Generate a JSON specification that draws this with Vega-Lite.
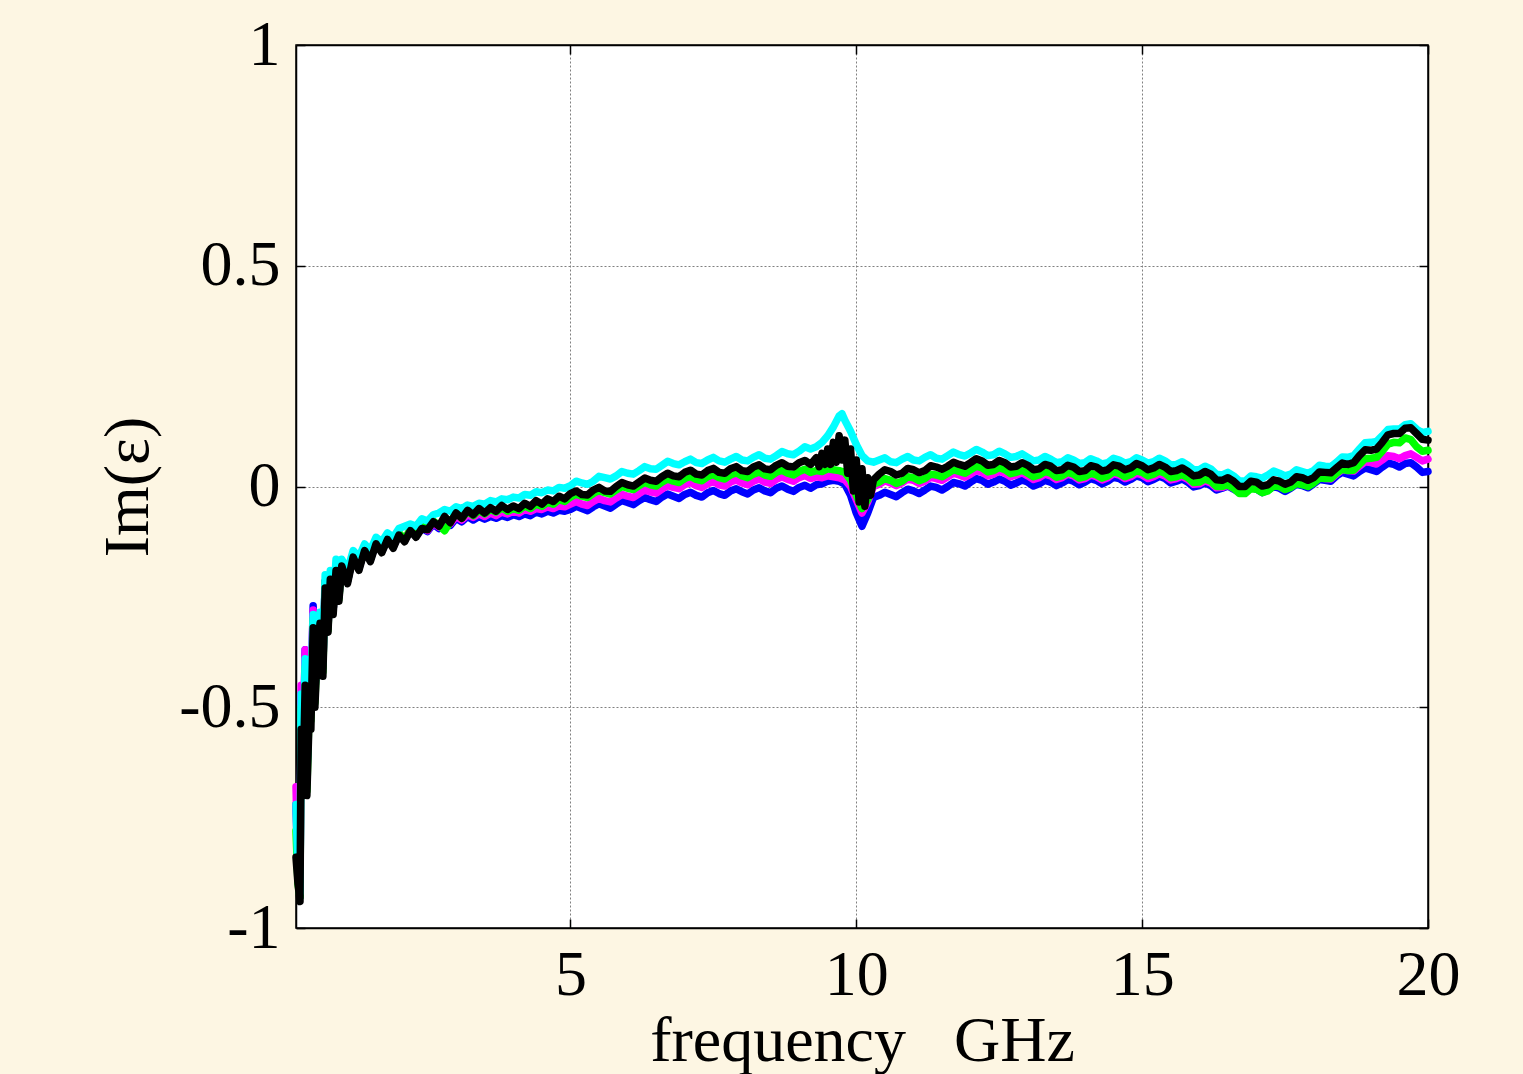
{
"$schema":"https://vega.github.io/schema/vega-lite/v6.json",
"width":1132,"height":883,
"autosize":{"type":"none"},
"padding":{"left":296,"top":45,"right":95,"bottom":146},
"background":"#FDF6E3",
"config":{
 "view":{"fill":"white","stroke":"black","strokeWidth":1.5},
 "axis":{"labelFont":"Liberation Serif","titleFont":"Liberation Serif","labelFontSize":64,"titleFontSize":64,"labelColor":"black","titleColor":"black","titleFontWeight":"normal","domainColor":"black","domainWidth":1.5,"tickColor":"black","tickWidth":1.5,"tickSize":-9,"gridColor":"#808080","gridDash":[2,2],"gridWidth":1,"labelFlush":false,"labelOverlap":false}
},
"data":{"values":[
{"f":0.2,"s":"k","v":-0.84},{"f":0.235,"s":"k","v":-0.9},{"f":0.27,"s":"k","v":-0.94},{"f":0.29,"s":"k","v":-0.55},{"f":0.32,"s":"k","v":-0.7},{"f":0.36,"s":"k","v":-0.45},{"f":0.39,"s":"k","v":-0.7},{"f":0.43,"s":"k","v":-0.52},{"f":0.46,"s":"k","v":-0.55},{"f":0.5,"s":"k","v":-0.32},{"f":0.53,"s":"k","v":-0.5},{"f":0.57,"s":"k","v":-0.38},{"f":0.62,"s":"k","v":-0.31},{"f":0.67,"s":"k","v":-0.43},{"f":0.71,"s":"k","v":-0.23},{"f":0.76,"s":"k","v":-0.33},{"f":0.8,"s":"k","v":-0.21},{"f":0.85,"s":"k","v":-0.29},{"f":0.9,"s":"k","v":-0.19},{"f":0.95,"s":"k","v":-0.26},
{"f":1.0,"s":"k","v":-0.18},{"f":1.1,"s":"k","v":-0.22},{"f":1.2,"s":"k","v":-0.16},{"f":1.3,"s":"k","v":-0.19},{"f":1.4,"s":"k","v":-0.145},{"f":1.5,"s":"k","v":-0.17},{"f":1.6,"s":"k","v":-0.13},{"f":1.7,"s":"k","v":-0.15},{"f":1.8,"s":"k","v":-0.12},{"f":1.9,"s":"k","v":-0.14},{"f":2.0,"s":"k","v":-0.11},{"f":2.1,"s":"k","v":-0.125},{"f":2.2,"s":"k","v":-0.1},{"f":2.3,"s":"k","v":-0.115},{"f":2.4,"s":"k","v":-0.095},{"f":2.5,"s":"k","v":-0.098},{"f":2.6,"s":"k","v":-0.08},{"f":2.7,"s":"k","v":-0.09},{"f":2.8,"s":"k","v":-0.068},{"f":2.9,"s":"k","v":-0.082},{"f":3.0,"s":"k","v":-0.06},{"f":3.1,"s":"k","v":-0.072},{"f":3.2,"s":"k","v":-0.054},{"f":3.3,"s":"k","v":-0.064},{"f":3.4,"s":"k","v":-0.05},{"f":3.5,"s":"k","v":-0.06},{"f":3.6,"s":"k","v":-0.048},{"f":3.7,"s":"k","v":-0.056},{"f":3.8,"s":"k","v":-0.043},{"f":3.9,"s":"k","v":-0.052},{"f":4.0,"s":"k","v":-0.044},{"f":4.1,"s":"k","v":-0.05},{"f":4.2,"s":"k","v":-0.038},{"f":4.3,"s":"k","v":-0.045},{"f":4.4,"s":"k","v":-0.032},{"f":4.5,"s":"k","v":-0.04},{"f":4.6,"s":"k","v":-0.028},{"f":4.7,"s":"k","v":-0.034},{"f":4.8,"s":"k","v":-0.022},{"f":4.9,"s":"k","v":-0.028},{"f":5.0,"s":"k","v":-0.016},
{"f":5.2,"s":"k","v":-0.018},{"f":5.4,"s":"k","v":-0.008},{"f":5.6,"s":"k","v":-0.01},{"f":5.8,"s":"k","v":0.0},{"f":6.0,"s":"k","v":0.004},{"f":6.2,"s":"k","v":0.01},{"f":6.4,"s":"k","v":0.014},{"f":6.6,"s":"k","v":0.022},{"f":6.8,"s":"k","v":0.024},{"f":7.0,"s":"k","v":0.032},{"f":7.2,"s":"k","v":0.028},{"f":7.4,"s":"k","v":0.036},{"f":7.6,"s":"k","v":0.032},{"f":7.8,"s":"k","v":0.04},{"f":8.0,"s":"k","v":0.036},{"f":8.2,"s":"k","v":0.044},{"f":8.4,"s":"k","v":0.04},{"f":8.6,"s":"k","v":0.048},{"f":8.8,"s":"k","v":0.046},{"f":9.0,"s":"k","v":0.054},{"f":9.2,"s":"k","v":0.05},
{"f":5.1,"s":"k","v":-0.01},{"f":5.3,"s":"k","v":-0.019},{"f":5.5,"s":"k","v":-0.002},{"f":5.7,"s":"k","v":-0.011},{"f":5.9,"s":"k","v":0.009},{"f":6.1,"s":"k","v":0.001},{"f":6.3,"s":"k","v":0.019},{"f":6.5,"s":"k","v":0.012},{"f":6.7,"s":"k","v":0.03},{"f":6.9,"s":"k","v":0.022},{"f":7.1,"s":"k","v":0.037},{"f":7.3,"s":"k","v":0.026},{"f":7.5,"s":"k","v":0.041},{"f":7.7,"s":"k","v":0.03},{"f":7.9,"s":"k","v":0.045},{"f":8.1,"s":"k","v":0.034},{"f":8.3,"s":"k","v":0.049},{"f":8.5,"s":"k","v":0.038},{"f":8.7,"s":"k","v":0.054},{"f":8.9,"s":"k","v":0.044},{"f":9.1,"s":"k","v":0.059},
{"f":9.3,"s":"k","v":0.065},{"f":9.35,"s":"k","v":0.045},{"f":9.4,"s":"k","v":0.075},{"f":9.45,"s":"k","v":0.05},{"f":9.5,"s":"k","v":0.085},{"f":9.55,"s":"k","v":0.05},{"f":9.6,"s":"k","v":0.1},{"f":9.65,"s":"k","v":0.055},{"f":9.7,"s":"k","v":0.115},{"f":9.75,"s":"k","v":0.06},{"f":9.8,"s":"k","v":0.105},{"f":9.85,"s":"k","v":0.03},{"f":9.9,"s":"k","v":0.085},{"f":9.95,"s":"k","v":-0.01},{"f":10.0,"s":"k","v":0.06},{"f":10.05,"s":"k","v":-0.035},{"f":10.1,"s":"k","v":0.04},{"f":10.15,"s":"k","v":-0.045},{"f":10.2,"s":"k","v":0.02},{"f":10.25,"s":"k","v":-0.02},{"f":10.3,"s":"k","v":0.015},
{"f":10.4,"s":"k","v":0.028},{"f":10.6,"s":"k","v":0.034},{"f":10.8,"s":"k","v":0.03},{"f":11.0,"s":"k","v":0.038},{"f":11.2,"s":"k","v":0.036},{"f":11.4,"s":"k","v":0.044},{"f":11.6,"s":"k","v":0.046},{"f":11.8,"s":"k","v":0.05},{"f":12.0,"s":"k","v":0.054},{"f":12.2,"s":"k","v":0.058},{"f":12.4,"s":"k","v":0.05},{"f":12.6,"s":"k","v":0.054},{"f":12.8,"s":"k","v":0.046},{"f":13.0,"s":"k","v":0.048},{"f":13.2,"s":"k","v":0.04},{"f":13.4,"s":"k","v":0.046},{"f":13.6,"s":"k","v":0.038},{"f":13.8,"s":"k","v":0.044},{"f":14.0,"s":"k","v":0.036},{"f":14.2,"s":"k","v":0.044},{"f":14.4,"s":"k","v":0.038},{"f":14.6,"s":"k","v":0.046},{"f":14.8,"s":"k","v":0.042},{"f":15.0,"s":"k","v":0.047},{"f":15.2,"s":"k","v":0.042},{"f":15.4,"s":"k","v":0.044},{"f":15.6,"s":"k","v":0.036},{"f":15.8,"s":"k","v":0.034},{"f":16.0,"s":"k","v":0.026},{"f":16.2,"s":"k","v":0.028},{"f":16.4,"s":"k","v":0.014},{"f":16.6,"s":"k","v":0.012},{"f":16.8,"s":"k","v":0.0},{"f":17.0,"s":"k","v":0.01},{"f":17.2,"s":"k","v":0.004},{"f":17.4,"s":"k","v":0.012},{"f":17.6,"s":"k","v":0.01},{"f":17.8,"s":"k","v":0.02},{"f":18.0,"s":"k","v":0.02},{"f":18.2,"s":"k","v":0.032},{"f":18.4,"s":"k","v":0.042},{"f":18.6,"s":"k","v":0.05},{"f":18.8,"s":"k","v":0.07},{"f":19.0,"s":"k","v":0.082},{"f":19.2,"s":"k","v":0.1},{"f":19.4,"s":"k","v":0.12},{"f":19.6,"s":"k","v":0.132},{"f":19.8,"s":"k","v":0.12},{"f":20.0,"s":"k","v":0.105},
{"f":10.5,"s":"k","v":0.038},{"f":10.7,"s":"k","v":0.026},{"f":10.9,"s":"k","v":0.041},{"f":11.1,"s":"k","v":0.031},{"f":11.3,"s":"k","v":0.047},{"f":11.5,"s":"k","v":0.039},{"f":11.7,"s":"k","v":0.055},{"f":11.9,"s":"k","v":0.046},{"f":12.1,"s":"k","v":0.063},{"f":12.3,"s":"k","v":0.048},{"f":12.5,"s":"k","v":0.059},{"f":12.7,"s":"k","v":0.044},{"f":12.9,"s":"k","v":0.054},{"f":13.1,"s":"k","v":0.038},{"f":13.3,"s":"k","v":0.05},{"f":13.5,"s":"k","v":0.036},{"f":13.7,"s":"k","v":0.048},{"f":13.9,"s":"k","v":0.034},{"f":14.1,"s":"k","v":0.047},{"f":14.3,"s":"k","v":0.035},{"f":14.5,"s":"k","v":0.049},{"f":14.7,"s":"k","v":0.038},{"f":14.9,"s":"k","v":0.052},{"f":15.1,"s":"k","v":0.038},{"f":15.3,"s":"k","v":0.05},{"f":15.5,"s":"k","v":0.034},{"f":15.7,"s":"k","v":0.042},{"f":15.9,"s":"k","v":0.024},{"f":16.1,"s":"k","v":0.034},{"f":16.3,"s":"k","v":0.015},{"f":16.5,"s":"k","v":0.02},{"f":16.7,"s":"k","v":0.0},{"f":16.9,"s":"k","v":0.012},{"f":17.1,"s":"k","v":0.001},{"f":17.3,"s":"k","v":0.015},{"f":17.5,"s":"k","v":0.005},{"f":17.7,"s":"k","v":0.022},{"f":17.9,"s":"k","v":0.014},{"f":18.1,"s":"k","v":0.033},{"f":18.3,"s":"k","v":0.031},{"f":18.5,"s":"k","v":0.053},{"f":18.7,"s":"k","v":0.054},{"f":18.9,"s":"k","v":0.083},{"f":19.1,"s":"k","v":0.085},{"f":19.3,"s":"k","v":0.117},{"f":19.5,"s":"k","v":0.12},{"f":19.7,"s":"k","v":0.133},{"f":19.9,"s":"k","v":0.107},

{"f":0.2,"s":"c","v":-0.72},{"f":0.235,"s":"c","v":-0.88},{"f":0.27,"s":"c","v":-0.92},{"f":0.29,"s":"c","v":-0.47},{"f":0.32,"s":"c","v":-0.66},{"f":0.36,"s":"c","v":-0.39},{"f":0.39,"s":"c","v":-0.66},{"f":0.43,"s":"c","v":-0.48},{"f":0.46,"s":"c","v":-0.5},{"f":0.5,"s":"c","v":-0.29},{"f":0.53,"s":"c","v":-0.47},{"f":0.57,"s":"c","v":-0.35},{"f":0.62,"s":"c","v":-0.285},{"f":0.67,"s":"c","v":-0.4},{"f":0.71,"s":"c","v":-0.2},{"f":0.76,"s":"c","v":-0.31},{"f":0.8,"s":"c","v":-0.19},{"f":0.85,"s":"c","v":-0.27},{"f":0.9,"s":"c","v":-0.165},{"f":0.95,"s":"c","v":-0.24},
{"f":1.0,"s":"c","v":-0.165},{"f":1.1,"s":"c","v":-0.19},{"f":1.2,"s":"c","v":-0.145},{"f":1.3,"s":"c","v":-0.16},{"f":1.4,"s":"c","v":-0.13},{"f":1.5,"s":"c","v":-0.145},{"f":1.6,"s":"c","v":-0.115},{"f":1.7,"s":"c","v":-0.125},{"f":1.8,"s":"c","v":-0.105},{"f":1.9,"s":"c","v":-0.115},{"f":2.0,"s":"c","v":-0.095},{"f":2.1,"s":"c","v":-0.09},{"f":2.2,"s":"c","v":-0.085},{"f":2.3,"s":"c","v":-0.09},{"f":2.4,"s":"c","v":-0.073},{"f":2.5,"s":"c","v":-0.078},{"f":2.6,"s":"c","v":-0.064},{"f":2.7,"s":"c","v":-0.06},{"f":2.8,"s":"c","v":-0.052},{"f":2.9,"s":"c","v":-0.056},{"f":3.0,"s":"c","v":-0.046},{"f":3.1,"s":"c","v":-0.05},{"f":3.2,"s":"c","v":-0.042},{"f":3.3,"s":"c","v":-0.045},{"f":3.4,"s":"c","v":-0.038},{"f":3.5,"s":"c","v":-0.04},{"f":3.6,"s":"c","v":-0.032},{"f":3.7,"s":"c","v":-0.035},{"f":3.8,"s":"c","v":-0.028},{"f":3.9,"s":"c","v":-0.03},{"f":4.0,"s":"c","v":-0.024},{"f":4.1,"s":"c","v":-0.026},{"f":4.2,"s":"c","v":-0.018},{"f":4.3,"s":"c","v":-0.02},{"f":4.4,"s":"c","v":-0.012},{"f":4.5,"s":"c","v":-0.014},{"f":4.6,"s":"c","v":-0.008},{"f":4.7,"s":"c","v":-0.01},{"f":4.8,"s":"c","v":-0.002},{"f":4.9,"s":"c","v":-0.004},{"f":5.0,"s":"c","v":0.002},
{"f":5.2,"s":"c","v":0.008},{"f":5.4,"s":"c","v":0.012},{"f":5.6,"s":"c","v":0.02},{"f":5.8,"s":"c","v":0.024},{"f":6.0,"s":"c","v":0.03},{"f":6.2,"s":"c","v":0.036},{"f":6.4,"s":"c","v":0.04},{"f":6.6,"s":"c","v":0.048},{"f":6.8,"s":"c","v":0.052},{"f":7.0,"s":"c","v":0.056},{"f":7.2,"s":"c","v":0.054},{"f":7.4,"s":"c","v":0.06},{"f":7.6,"s":"c","v":0.058},{"f":7.8,"s":"c","v":0.062},{"f":8.0,"s":"c","v":0.06},{"f":8.2,"s":"c","v":0.066},{"f":8.4,"s":"c","v":0.064},{"f":8.6,"s":"c","v":0.07},{"f":8.8,"s":"c","v":0.074},{"f":9.0,"s":"c","v":0.08},{"f":9.2,"s":"c","v":0.085},
{"f":5.1,"s":"c","v":0.012},{"f":5.3,"s":"c","v":0.005},{"f":5.5,"s":"c","v":0.023},{"f":5.7,"s":"c","v":0.017},{"f":5.9,"s":"c","v":0.034},{"f":6.1,"s":"c","v":0.028},{"f":6.3,"s":"c","v":0.045},{"f":6.5,"s":"c","v":0.039},{"f":6.7,"s":"c","v":0.057},{"f":6.9,"s":"c","v":0.049},{"f":7.1,"s":"c","v":0.062},{"f":7.3,"s":"c","v":0.052},{"f":7.5,"s":"c","v":0.066},{"f":7.7,"s":"c","v":0.055},{"f":7.9,"s":"c","v":0.068},{"f":8.1,"s":"c","v":0.058},{"f":8.3,"s":"c","v":0.072},{"f":8.5,"s":"c","v":0.062},{"f":8.7,"s":"c","v":0.079},{"f":8.9,"s":"c","v":0.072},{"f":9.1,"s":"c","v":0.09},
{"f":9.3,"s":"c","v":0.09},{"f":9.4,"s":"c","v":0.1},{"f":9.5,"s":"c","v":0.115},{"f":9.6,"s":"c","v":0.135},{"f":9.7,"s":"c","v":0.16},{"f":9.75,"s":"c","v":0.165},{"f":9.8,"s":"c","v":0.15},{"f":9.9,"s":"c","v":0.125},{"f":10.0,"s":"c","v":0.095},{"f":10.1,"s":"c","v":0.07},{"f":10.2,"s":"c","v":0.058},{"f":10.3,"s":"c","v":0.055},
{"f":10.4,"s":"c","v":0.06},{"f":10.6,"s":"c","v":0.056},{"f":10.8,"s":"c","v":0.062},{"f":11.0,"s":"c","v":0.06},{"f":11.2,"s":"c","v":0.066},{"f":11.4,"s":"c","v":0.064},{"f":11.6,"s":"c","v":0.07},{"f":11.8,"s":"c","v":0.072},{"f":12.0,"s":"c","v":0.076},{"f":12.2,"s":"c","v":0.078},{"f":12.4,"s":"c","v":0.072},{"f":12.6,"s":"c","v":0.074},{"f":12.8,"s":"c","v":0.068},{"f":13.0,"s":"c","v":0.066},{"f":13.2,"s":"c","v":0.06},{"f":13.4,"s":"c","v":0.062},{"f":13.6,"s":"c","v":0.056},{"f":13.8,"s":"c","v":0.06},{"f":14.0,"s":"c","v":0.054},{"f":14.2,"s":"c","v":0.058},{"f":14.4,"s":"c","v":0.054},{"f":14.6,"s":"c","v":0.06},{"f":14.8,"s":"c","v":0.056},{"f":15.0,"s":"c","v":0.06},{"f":15.2,"s":"c","v":0.056},{"f":15.4,"s":"c","v":0.058},{"f":15.6,"s":"c","v":0.05},{"f":15.8,"s":"c","v":0.048},{"f":16.0,"s":"c","v":0.038},{"f":16.2,"s":"c","v":0.04},{"f":16.4,"s":"c","v":0.026},{"f":16.6,"s":"c","v":0.024},{"f":16.8,"s":"c","v":0.012},{"f":17.0,"s":"c","v":0.022},{"f":17.2,"s":"c","v":0.026},{"f":17.4,"s":"c","v":0.03},{"f":17.6,"s":"c","v":0.028},{"f":17.8,"s":"c","v":0.034},{"f":18.0,"s":"c","v":0.036},{"f":18.2,"s":"c","v":0.046},{"f":18.4,"s":"c","v":0.055},{"f":18.6,"s":"c","v":0.066},{"f":18.8,"s":"c","v":0.085},{"f":19.0,"s":"c","v":0.1},{"f":19.2,"s":"c","v":0.115},{"f":19.4,"s":"c","v":0.13},{"f":19.6,"s":"c","v":0.14},{"f":19.8,"s":"c","v":0.13},{"f":20.0,"s":"c","v":0.125},
{"f":10.5,"s":"c","v":0.065},{"f":10.7,"s":"c","v":0.054},{"f":10.9,"s":"c","v":0.068},{"f":11.1,"s":"c","v":0.058},{"f":11.3,"s":"c","v":0.072},{"f":11.5,"s":"c","v":0.062},{"f":11.7,"s":"c","v":0.078},{"f":11.9,"s":"c","v":0.069},{"f":12.1,"s":"c","v":0.084},{"f":12.3,"s":"c","v":0.07},{"f":12.5,"s":"c","v":0.08},{"f":12.7,"s":"c","v":0.066},{"f":12.9,"s":"c","v":0.074},{"f":13.1,"s":"c","v":0.058},{"f":13.3,"s":"c","v":0.068},{"f":13.5,"s":"c","v":0.054},{"f":13.7,"s":"c","v":0.065},{"f":13.9,"s":"c","v":0.052},{"f":14.1,"s":"c","v":0.063},{"f":14.3,"s":"c","v":0.051},{"f":14.5,"s":"c","v":0.064},{"f":14.7,"s":"c","v":0.053},{"f":14.9,"s":"c","v":0.065},{"f":15.1,"s":"c","v":0.053},{"f":15.3,"s":"c","v":0.064},{"f":15.5,"s":"c","v":0.049},{"f":15.7,"s":"c","v":0.056},{"f":15.9,"s":"c","v":0.038},{"f":16.1,"s":"c","v":0.046},{"f":16.3,"s":"c","v":0.028},{"f":16.5,"s":"c","v":0.032},{"f":16.7,"s":"c","v":0.013},{"f":16.9,"s":"c","v":0.024},{"f":17.1,"s":"c","v":0.019},{"f":17.3,"s":"c","v":0.035},{"f":17.5,"s":"c","v":0.024},{"f":17.7,"s":"c","v":0.038},{"f":17.9,"s":"c","v":0.03},{"f":18.1,"s":"c","v":0.048},{"f":18.3,"s":"c","v":0.045},{"f":18.5,"s":"c","v":0.067},{"f":18.7,"s":"c","v":0.07},{"f":18.9,"s":"c","v":0.099},{"f":19.1,"s":"c","v":0.102},{"f":19.3,"s":"c","v":0.129},{"f":19.5,"s":"c","v":0.13},{"f":19.7,"s":"c","v":0.142},{"f":19.9,"s":"c","v":0.122},

{"f":0.2,"s":"g","v":-0.78},{"f":0.235,"s":"g","v":-0.9},{"f":0.27,"s":"g","v":-0.93},{"f":0.29,"s":"g","v":-0.5},{"f":0.32,"s":"g","v":-0.69},{"f":0.36,"s":"g","v":-0.41},{"f":0.39,"s":"g","v":-0.69},{"f":0.43,"s":"g","v":-0.5},{"f":0.46,"s":"g","v":-0.53},{"f":0.5,"s":"g","v":-0.3},{"f":0.53,"s":"g","v":-0.49},{"f":0.57,"s":"g","v":-0.36},{"f":0.62,"s":"g","v":-0.3},{"f":0.67,"s":"g","v":-0.42},{"f":0.71,"s":"g","v":-0.215},{"f":0.76,"s":"g","v":-0.325},{"f":0.8,"s":"g","v":-0.2},{"f":0.85,"s":"g","v":-0.28},{"f":0.9,"s":"g","v":-0.18},{"f":0.95,"s":"g","v":-0.255},
{"f":1.0,"s":"g","v":-0.175},{"f":1.1,"s":"g","v":-0.215},{"f":1.2,"s":"g","v":-0.155},{"f":1.3,"s":"g","v":-0.185},{"f":1.4,"s":"g","v":-0.14},{"f":1.5,"s":"g","v":-0.165},{"f":1.6,"s":"g","v":-0.125},{"f":1.7,"s":"g","v":-0.145},{"f":1.8,"s":"g","v":-0.115},{"f":1.9,"s":"g","v":-0.135},{"f":2.0,"s":"g","v":-0.105},{"f":2.1,"s":"g","v":-0.12},{"f":2.2,"s":"g","v":-0.097},{"f":2.3,"s":"g","v":-0.11},{"f":2.4,"s":"g","v":-0.09},{"f":2.5,"s":"g","v":-0.096},{"f":2.6,"s":"g","v":-0.078},{"f":2.7,"s":"g","v":-0.088},{"f":2.8,"s":"g","v":-0.1},{"f":2.9,"s":"g","v":-0.08},{"f":3.0,"s":"g","v":-0.06},{"f":3.1,"s":"g","v":-0.072},{"f":3.2,"s":"g","v":-0.056},{"f":3.3,"s":"g","v":-0.066},{"f":3.4,"s":"g","v":-0.054},{"f":3.5,"s":"g","v":-0.062},{"f":3.6,"s":"g","v":-0.052},{"f":3.7,"s":"g","v":-0.058},{"f":3.8,"s":"g","v":-0.048},{"f":3.9,"s":"g","v":-0.056},{"f":4.0,"s":"g","v":-0.05},{"f":4.1,"s":"g","v":-0.054},{"f":4.2,"s":"g","v":-0.044},{"f":4.3,"s":"g","v":-0.05},{"f":4.4,"s":"g","v":-0.04},{"f":4.5,"s":"g","v":-0.045},{"f":4.6,"s":"g","v":-0.036},{"f":4.7,"s":"g","v":-0.04},{"f":4.8,"s":"g","v":-0.03},{"f":4.9,"s":"g","v":-0.034},{"f":5.0,"s":"g","v":-0.024},
{"f":5.2,"s":"g","v":-0.022},{"f":5.4,"s":"g","v":-0.016},{"f":5.6,"s":"g","v":-0.014},{"f":5.8,"s":"g","v":-0.008},{"f":6.0,"s":"g","v":-0.004},{"f":6.2,"s":"g","v":0.002},{"f":6.4,"s":"g","v":0.004},{"f":6.6,"s":"g","v":0.01},{"f":6.8,"s":"g","v":0.012},{"f":7.0,"s":"g","v":0.018},{"f":7.2,"s":"g","v":0.016},{"f":7.4,"s":"g","v":0.022},{"f":7.6,"s":"g","v":0.02},{"f":7.8,"s":"g","v":0.026},{"f":8.0,"s":"g","v":0.024},{"f":8.2,"s":"g","v":0.028},{"f":8.4,"s":"g","v":0.026},{"f":8.6,"s":"g","v":0.032},{"f":8.8,"s":"g","v":0.03},{"f":9.0,"s":"g","v":0.034},{"f":9.2,"s":"g","v":0.032},
{"f":5.1,"s":"g","v":-0.017},{"f":5.3,"s":"g","v":-0.025},{"f":5.5,"s":"g","v":-0.009},{"f":5.7,"s":"g","v":-0.017},{"f":5.9,"s":"g","v":0.0},{"f":6.1,"s":"g","v":-0.007},{"f":6.3,"s":"g","v":0.009},{"f":6.5,"s":"g","v":0.001},{"f":6.7,"s":"g","v":0.017},{"f":6.9,"s":"g","v":0.009},{"f":7.1,"s":"g","v":0.023},{"f":7.3,"s":"g","v":0.013},{"f":7.5,"s":"g","v":0.027},{"f":7.7,"s":"g","v":0.017},{"f":7.9,"s":"g","v":0.031},{"f":8.1,"s":"g","v":0.02},{"f":8.3,"s":"g","v":0.033},{"f":8.5,"s":"g","v":0.023},{"f":8.7,"s":"g","v":0.037},{"f":8.9,"s":"g","v":0.026},{"f":9.1,"s":"g","v":0.039},
{"f":9.3,"s":"g","v":0.036},{"f":9.4,"s":"g","v":0.034},{"f":9.5,"s":"g","v":0.04},{"f":9.6,"s":"g","v":0.038},{"f":9.7,"s":"g","v":0.036},{"f":9.8,"s":"g","v":0.032},{"f":9.9,"s":"g","v":0.015},{"f":10.0,"s":"g","v":-0.02},{"f":10.1,"s":"g","v":-0.05},{"f":10.2,"s":"g","v":-0.03},{"f":10.3,"s":"g","v":0.005},
{"f":10.4,"s":"g","v":0.01},{"f":10.6,"s":"g","v":0.014},{"f":10.8,"s":"g","v":0.012},{"f":11.0,"s":"g","v":0.02},{"f":11.2,"s":"g","v":0.018},{"f":11.4,"s":"g","v":0.026},{"f":11.6,"s":"g","v":0.03},{"f":11.8,"s":"g","v":0.034},{"f":12.0,"s":"g","v":0.038},{"f":12.2,"s":"g","v":0.042},{"f":12.4,"s":"g","v":0.036},{"f":12.6,"s":"g","v":0.038},{"f":12.8,"s":"g","v":0.032},{"f":13.0,"s":"g","v":0.03},{"f":13.2,"s":"g","v":0.026},{"f":13.4,"s":"g","v":0.03},{"f":13.6,"s":"g","v":0.024},{"f":13.8,"s":"g","v":0.028},{"f":14.0,"s":"g","v":0.022},{"f":14.2,"s":"g","v":0.026},{"f":14.4,"s":"g","v":0.024},{"f":14.6,"s":"g","v":0.03},{"f":14.8,"s":"g","v":0.027},{"f":15.0,"s":"g","v":0.032},{"f":15.2,"s":"g","v":0.028},{"f":15.4,"s":"g","v":0.03},{"f":15.6,"s":"g","v":0.022},{"f":15.8,"s":"g","v":0.02},{"f":16.0,"s":"g","v":0.01},{"f":16.2,"s":"g","v":0.012},{"f":16.4,"s":"g","v":0.0},{"f":16.6,"s":"g","v":-0.004},{"f":16.8,"s":"g","v":-0.016},{"f":17.0,"s":"g","v":-0.006},{"f":17.2,"s":"g","v":-0.01},{"f":17.4,"s":"g","v":0.0},{"f":17.6,"s":"g","v":-0.002},{"f":17.8,"s":"g","v":0.004},{"f":18.0,"s":"g","v":0.008},{"f":18.2,"s":"g","v":0.018},{"f":18.4,"s":"g","v":0.03},{"f":18.6,"s":"g","v":0.036},{"f":18.8,"s":"g","v":0.05},{"f":19.0,"s":"g","v":0.064},{"f":19.2,"s":"g","v":0.08},{"f":19.4,"s":"g","v":0.1},{"f":19.6,"s":"g","v":0.11},{"f":19.8,"s":"g","v":0.09},{"f":20.0,"s":"g","v":0.082},
{"f":10.5,"s":"g","v":0.018},{"f":10.7,"s":"g","v":0.007},{"f":10.9,"s":"g","v":0.022},{"f":11.1,"s":"g","v":0.013},{"f":11.3,"s":"g","v":0.028},{"f":11.5,"s":"g","v":0.022},{"f":11.7,"s":"g","v":0.038},{"f":11.9,"s":"g","v":0.03},{"f":12.1,"s":"g","v":0.046},{"f":12.3,"s":"g","v":0.033},{"f":12.5,"s":"g","v":0.043},{"f":12.7,"s":"g","v":0.029},{"f":12.9,"s":"g","v":0.037},{"f":13.1,"s":"g","v":0.022},{"f":13.3,"s":"g","v":0.034},{"f":13.5,"s":"g","v":0.021},{"f":13.7,"s":"g","v":0.032},{"f":13.9,"s":"g","v":0.019},{"f":14.1,"s":"g","v":0.03},{"f":14.3,"s":"g","v":0.019},{"f":14.5,"s":"g","v":0.033},{"f":14.7,"s":"g","v":0.022},{"f":14.9,"s":"g","v":0.036},{"f":15.1,"s":"g","v":0.024},{"f":15.3,"s":"g","v":0.035},{"f":15.5,"s":"g","v":0.02},{"f":15.7,"s":"g","v":0.027},{"f":15.9,"s":"g","v":0.009},{"f":16.1,"s":"g","v":0.017},{"f":16.3,"s":"g","v":0.0},{"f":16.5,"s":"g","v":0.004},{"f":16.7,"s":"g","v":-0.016},{"f":16.9,"s":"g","v":-0.005},{"f":17.1,"s":"g","v":-0.014},{"f":17.3,"s":"g","v":0.001},{"f":17.5,"s":"g","v":-0.007},{"f":17.7,"s":"g","v":0.007},{"f":17.9,"s":"g","v":0.0},{"f":18.1,"s":"g","v":0.019},{"f":18.3,"s":"g","v":0.018},{"f":18.5,"s":"g","v":0.039},{"f":18.7,"s":"g","v":0.037},{"f":18.9,"s":"g","v":0.063},{"f":19.1,"s":"g","v":0.066},{"f":19.3,"s":"g","v":0.096},{"f":19.5,"s":"g","v":0.099},{"f":19.7,"s":"g","v":0.106},{"f":19.9,"s":"g","v":0.08},

{"f":0.2,"s":"m","v":-0.68},{"f":0.235,"s":"m","v":-0.86},{"f":0.27,"s":"m","v":-0.92},{"f":0.29,"s":"m","v":-0.45},{"f":0.32,"s":"m","v":-0.65},{"f":0.36,"s":"m","v":-0.37},{"f":0.39,"s":"m","v":-0.65},{"f":0.43,"s":"m","v":-0.47},{"f":0.46,"s":"m","v":-0.49},{"f":0.5,"s":"m","v":-0.28},{"f":0.53,"s":"m","v":-0.46},{"f":0.57,"s":"m","v":-0.35},{"f":0.62,"s":"m","v":-0.3},{"f":0.67,"s":"m","v":-0.41},{"f":0.71,"s":"m","v":-0.215},{"f":0.76,"s":"m","v":-0.32},{"f":0.8,"s":"m","v":-0.2},{"f":0.85,"s":"m","v":-0.28},{"f":0.9,"s":"m","v":-0.18},{"f":0.95,"s":"m","v":-0.25},
{"f":1.0,"s":"m","v":-0.175},{"f":1.1,"s":"m","v":-0.215},{"f":1.2,"s":"m","v":-0.155},{"f":1.3,"s":"m","v":-0.185},{"f":1.4,"s":"m","v":-0.14},{"f":1.5,"s":"m","v":-0.165},{"f":1.6,"s":"m","v":-0.125},{"f":1.7,"s":"m","v":-0.145},{"f":1.8,"s":"m","v":-0.117},{"f":1.9,"s":"m","v":-0.135},{"f":2.0,"s":"m","v":-0.107},{"f":2.1,"s":"m","v":-0.12},{"f":2.2,"s":"m","v":-0.098},{"f":2.3,"s":"m","v":-0.11},{"f":2.4,"s":"m","v":-0.092},{"f":2.5,"s":"m","v":-0.1},{"f":2.6,"s":"m","v":-0.082},{"f":2.7,"s":"m","v":-0.092},{"f":2.8,"s":"m","v":-0.075},{"f":2.9,"s":"m","v":-0.084},{"f":3.0,"s":"m","v":-0.068},{"f":3.1,"s":"m","v":-0.076},{"f":3.2,"s":"m","v":-0.064},{"f":3.3,"s":"m","v":-0.07},{"f":3.4,"s":"m","v":-0.062},{"f":3.5,"s":"m","v":-0.068},{"f":3.6,"s":"m","v":-0.06},{"f":3.7,"s":"m","v":-0.066},{"f":3.8,"s":"m","v":-0.058},{"f":3.9,"s":"m","v":-0.062},{"f":4.0,"s":"m","v":-0.056},{"f":4.1,"s":"m","v":-0.06},{"f":4.2,"s":"m","v":-0.052},{"f":4.3,"s":"m","v":-0.056},{"f":4.4,"s":"m","v":-0.05},{"f":4.5,"s":"m","v":-0.052},{"f":4.6,"s":"m","v":-0.046},{"f":4.7,"s":"m","v":-0.05},{"f":4.8,"s":"m","v":-0.044},{"f":4.9,"s":"m","v":-0.046},{"f":5.0,"s":"m","v":-0.04},
{"f":5.2,"s":"m","v":-0.04},{"f":5.4,"s":"m","v":-0.034},{"f":5.6,"s":"m","v":-0.032},{"f":5.8,"s":"m","v":-0.026},{"f":6.0,"s":"m","v":-0.022},{"f":6.2,"s":"m","v":-0.016},{"f":6.4,"s":"m","v":-0.012},{"f":6.6,"s":"m","v":-0.006},{"f":6.8,"s":"m","v":-0.002},{"f":7.0,"s":"m","v":0.004},{"f":7.2,"s":"m","v":0.002},{"f":7.4,"s":"m","v":0.006},{"f":7.6,"s":"m","v":0.004},{"f":7.8,"s":"m","v":0.01},{"f":8.0,"s":"m","v":0.008},{"f":8.2,"s":"m","v":0.012},{"f":8.4,"s":"m","v":0.01},{"f":8.6,"s":"m","v":0.016},{"f":8.8,"s":"m","v":0.016},{"f":9.0,"s":"m","v":0.02},{"f":9.2,"s":"m","v":0.018},
{"f":5.1,"s":"m","v":-0.034},{"f":5.3,"s":"m","v":-0.043},{"f":5.5,"s":"m","v":-0.027},{"f":5.7,"s":"m","v":-0.035},{"f":5.9,"s":"m","v":-0.018},{"f":6.1,"s":"m","v":-0.025},{"f":6.3,"s":"m","v":-0.008},{"f":6.5,"s":"m","v":-0.015},{"f":6.7,"s":"m","v":0.002},{"f":6.9,"s":"m","v":-0.005},{"f":7.1,"s":"m","v":0.009},{"f":7.3,"s":"m","v":-0.002},{"f":7.5,"s":"m","v":0.011},{"f":7.7,"s":"m","v":0.001},{"f":7.9,"s":"m","v":0.015},{"f":8.1,"s":"m","v":0.004},{"f":8.3,"s":"m","v":0.017},{"f":8.5,"s":"m","v":0.007},{"f":8.7,"s":"m","v":0.022},{"f":8.9,"s":"m","v":0.012},{"f":9.1,"s":"m","v":0.025},
{"f":9.3,"s":"m","v":0.022},{"f":9.4,"s":"m","v":0.02},{"f":9.5,"s":"m","v":0.024},{"f":9.6,"s":"m","v":0.022},{"f":9.7,"s":"m","v":0.02},{"f":9.8,"s":"m","v":0.015},{"f":9.9,"s":"m","v":0.0},{"f":10.0,"s":"m","v":-0.03},{"f":10.1,"s":"m","v":-0.06},{"f":10.2,"s":"m","v":-0.035},{"f":10.3,"s":"m","v":0.0},
{"f":10.4,"s":"m","v":0.005},{"f":10.6,"s":"m","v":0.008},{"f":10.8,"s":"m","v":0.008},{"f":11.0,"s":"m","v":0.014},{"f":11.2,"s":"m","v":0.012},{"f":11.4,"s":"m","v":0.018},{"f":11.6,"s":"m","v":0.022},{"f":11.8,"s":"m","v":0.026},{"f":12.0,"s":"m","v":0.028},{"f":12.2,"s":"m","v":0.032},{"f":12.4,"s":"m","v":0.028},{"f":12.6,"s":"m","v":0.03},{"f":12.8,"s":"m","v":0.026},{"f":13.0,"s":"m","v":0.024},{"f":13.2,"s":"m","v":0.02},{"f":13.4,"s":"m","v":0.024},{"f":13.6,"s":"m","v":0.02},{"f":13.8,"s":"m","v":0.024},{"f":14.0,"s":"m","v":0.018},{"f":14.2,"s":"m","v":0.022},{"f":14.4,"s":"m","v":0.02},{"f":14.6,"s":"m","v":0.026},{"f":14.8,"s":"m","v":0.022},{"f":15.0,"s":"m","v":0.026},{"f":15.2,"s":"m","v":0.022},{"f":15.4,"s":"m","v":0.024},{"f":15.6,"s":"m","v":0.018},{"f":15.8,"s":"m","v":0.016},{"f":16.0,"s":"m","v":0.006},{"f":16.2,"s":"m","v":0.008},{"f":16.4,"s":"m","v":-0.002},{"f":16.6,"s":"m","v":-0.004},{"f":16.8,"s":"m","v":-0.01},{"f":17.0,"s":"m","v":-0.004},{"f":17.2,"s":"m","v":-0.006},{"f":17.4,"s":"m","v":0.0},{"f":17.6,"s":"m","v":0.0},{"f":17.8,"s":"m","v":0.006},{"f":18.0,"s":"m","v":0.01},{"f":18.2,"s":"m","v":0.018},{"f":18.4,"s":"m","v":0.028},{"f":18.6,"s":"m","v":0.036},{"f":18.8,"s":"m","v":0.046},{"f":19.0,"s":"m","v":0.054},{"f":19.2,"s":"m","v":0.06},{"f":19.4,"s":"m","v":0.068},{"f":19.6,"s":"m","v":0.07},{"f":19.8,"s":"m","v":0.066},{"f":20.0,"s":"m","v":0.062},
{"f":10.5,"s":"m","v":0.013},{"f":10.7,"s":"m","v":0.002},{"f":10.9,"s":"m","v":0.017},{"f":11.1,"s":"m","v":0.007},{"f":11.3,"s":"m","v":0.021},{"f":11.5,"s":"m","v":0.014},{"f":11.7,"s":"m","v":0.03},{"f":11.9,"s":"m","v":0.021},{"f":12.1,"s":"m","v":0.036},{"f":12.3,"s":"m","v":0.024},{"f":12.5,"s":"m","v":0.035},{"f":12.7,"s":"m","v":0.022},{"f":12.9,"s":"m","v":0.031},{"f":13.1,"s":"m","v":0.016},{"f":13.3,"s":"m","v":0.028},{"f":13.5,"s":"m","v":0.016},{"f":13.7,"s":"m","v":0.028},{"f":13.9,"s":"m","v":0.015},{"f":14.1,"s":"m","v":0.026},{"f":14.3,"s":"m","v":0.015},{"f":14.5,"s":"m","v":0.029},{"f":14.7,"s":"m","v":0.018},{"f":14.9,"s":"m","v":0.03},{"f":15.1,"s":"m","v":0.018},{"f":15.3,"s":"m","v":0.029},{"f":15.5,"s":"m","v":0.015},{"f":15.7,"s":"m","v":0.023},{"f":15.9,"s":"m","v":0.005},{"f":16.1,"s":"m","v":0.013},{"f":16.3,"s":"m","v":-0.003},{"f":16.5,"s":"m","v":0.003},{"f":16.7,"s":"m","v":-0.013},{"f":16.9,"s":"m","v":-0.001},{"f":17.1,"s":"m","v":-0.011},{"f":17.3,"s":"m","v":0.003},{"f":17.5,"s":"m","v":-0.006},{"f":17.7,"s":"m","v":0.009},{"f":17.9,"s":"m","v":0.002},{"f":18.1,"s":"m","v":0.02},{"f":18.3,"s":"m","v":0.017},{"f":18.5,"s":"m","v":0.038},{"f":18.7,"s":"m","v":0.035},{"f":18.9,"s":"m","v":0.056},{"f":19.1,"s":"m","v":0.051},{"f":19.3,"s":"m","v":0.07},{"f":19.5,"s":"m","v":0.063},{"f":19.7,"s":"m","v":0.074},{"f":19.9,"s":"m","v":0.058},

{"f":0.2,"s":"b","v":-0.72},{"f":0.235,"s":"b","v":-0.88},{"f":0.27,"s":"b","v":-0.93},{"f":0.29,"s":"b","v":-0.47},{"f":0.32,"s":"b","v":-0.66},{"f":0.36,"s":"b","v":-0.37},{"f":0.39,"s":"b","v":-0.66},{"f":0.43,"s":"b","v":-0.48},{"f":0.46,"s":"b","v":-0.5},{"f":0.5,"s":"b","v":-0.27},{"f":0.53,"s":"b","v":-0.47},{"f":0.57,"s":"b","v":-0.355},{"f":0.62,"s":"b","v":-0.3},{"f":0.67,"s":"b","v":-0.41},{"f":0.71,"s":"b","v":-0.215},{"f":0.76,"s":"b","v":-0.32},{"f":0.8,"s":"b","v":-0.2},{"f":0.85,"s":"b","v":-0.28},{"f":0.9,"s":"b","v":-0.18},{"f":0.95,"s":"b","v":-0.25},
{"f":1.0,"s":"b","v":-0.178},{"f":1.1,"s":"b","v":-0.215},{"f":1.2,"s":"b","v":-0.158},{"f":1.3,"s":"b","v":-0.186},{"f":1.4,"s":"b","v":-0.142},{"f":1.5,"s":"b","v":-0.166},{"f":1.6,"s":"b","v":-0.128},{"f":1.7,"s":"b","v":-0.147},{"f":1.8,"s":"b","v":-0.118},{"f":1.9,"s":"b","v":-0.137},{"f":2.0,"s":"b","v":-0.108},{"f":2.1,"s":"b","v":-0.122},{"f":2.2,"s":"b","v":-0.1},{"f":2.3,"s":"b","v":-0.112},{"f":2.4,"s":"b","v":-0.094},{"f":2.5,"s":"b","v":-0.102},{"f":2.6,"s":"b","v":-0.085},{"f":2.7,"s":"b","v":-0.095},{"f":2.8,"s":"b","v":-0.078},{"f":2.9,"s":"b","v":-0.088},{"f":3.0,"s":"b","v":-0.072},{"f":3.1,"s":"b","v":-0.08},{"f":3.2,"s":"b","v":-0.068},{"f":3.3,"s":"b","v":-0.076},{"f":3.4,"s":"b","v":-0.068},{"f":3.5,"s":"b","v":-0.074},{"f":3.6,"s":"b","v":-0.068},{"f":3.7,"s":"b","v":-0.072},{"f":3.8,"s":"b","v":-0.066},{"f":3.9,"s":"b","v":-0.07},{"f":4.0,"s":"b","v":-0.064},{"f":4.1,"s":"b","v":-0.068},{"f":4.2,"s":"b","v":-0.062},{"f":4.3,"s":"b","v":-0.066},{"f":4.4,"s":"b","v":-0.058},{"f":4.5,"s":"b","v":-0.062},{"f":4.6,"s":"b","v":-0.056},{"f":4.7,"s":"b","v":-0.06},{"f":4.8,"s":"b","v":-0.054},{"f":4.9,"s":"b","v":-0.056},{"f":5.0,"s":"b","v":-0.052},
{"f":5.2,"s":"b","v":-0.05},{"f":5.4,"s":"b","v":-0.046},{"f":5.6,"s":"b","v":-0.044},{"f":5.8,"s":"b","v":-0.04},{"f":6.0,"s":"b","v":-0.036},{"f":6.2,"s":"b","v":-0.032},{"f":6.4,"s":"b","v":-0.03},{"f":6.6,"s":"b","v":-0.024},{"f":6.8,"s":"b","v":-0.022},{"f":7.0,"s":"b","v":-0.018},{"f":7.2,"s":"b","v":-0.02},{"f":7.4,"s":"b","v":-0.014},{"f":7.6,"s":"b","v":-0.016},{"f":7.8,"s":"b","v":-0.01},{"f":8.0,"s":"b","v":-0.012},{"f":8.2,"s":"b","v":-0.008},{"f":8.4,"s":"b","v":-0.01},{"f":8.6,"s":"b","v":-0.004},{"f":8.8,"s":"b","v":-0.006},{"f":9.0,"s":"b","v":-0.002},{"f":9.2,"s":"b","v":-0.004},
{"f":5.1,"s":"b","v":-0.045},{"f":5.3,"s":"b","v":-0.055},{"f":5.5,"s":"b","v":-0.039},{"f":5.7,"s":"b","v":-0.049},{"f":5.9,"s":"b","v":-0.032},{"f":6.1,"s":"b","v":-0.041},{"f":6.3,"s":"b","v":-0.025},{"f":6.5,"s":"b","v":-0.034},{"f":6.7,"s":"b","v":-0.017},{"f":6.9,"s":"b","v":-0.027},{"f":7.1,"s":"b","v":-0.013},{"f":7.3,"s":"b","v":-0.024},{"f":7.5,"s":"b","v":-0.009},{"f":7.7,"s":"b","v":-0.02},{"f":7.9,"s":"b","v":-0.005},{"f":8.1,"s":"b","v":-0.017},{"f":8.3,"s":"b","v":-0.003},{"f":8.5,"s":"b","v":-0.014},{"f":8.7,"s":"b","v":0.001},{"f":8.9,"s":"b","v":-0.011},{"f":9.1,"s":"b","v":0.003},
{"f":9.3,"s":"b","v":0.004},{"f":9.4,"s":"b","v":0.006},{"f":9.5,"s":"b","v":0.012},{"f":9.6,"s":"b","v":0.014},{"f":9.7,"s":"b","v":0.012},{"f":9.8,"s":"b","v":0.005},{"f":9.9,"s":"b","v":-0.02},{"f":10.0,"s":"b","v":-0.06},{"f":10.1,"s":"b","v":-0.09},{"f":10.2,"s":"b","v":-0.06},{"f":10.3,"s":"b","v":-0.025},
{"f":10.4,"s":"b","v":-0.02},{"f":10.6,"s":"b","v":-0.018},{"f":10.8,"s":"b","v":-0.014},{"f":11.0,"s":"b","v":-0.01},{"f":11.2,"s":"b","v":-0.008},{"f":11.4,"s":"b","v":-0.002},{"f":11.6,"s":"b","v":0.0},{"f":11.8,"s":"b","v":0.006},{"f":12.0,"s":"b","v":0.01},{"f":12.2,"s":"b","v":0.014},{"f":12.4,"s":"b","v":0.01},{"f":12.6,"s":"b","v":0.012},{"f":12.8,"s":"b","v":0.008},{"f":13.0,"s":"b","v":0.01},{"f":13.2,"s":"b","v":0.006},{"f":13.4,"s":"b","v":0.01},{"f":13.6,"s":"b","v":0.008},{"f":13.8,"s":"b","v":0.012},{"f":14.0,"s":"b","v":0.01},{"f":14.2,"s":"b","v":0.014},{"f":14.4,"s":"b","v":0.012},{"f":14.6,"s":"b","v":0.018},{"f":14.8,"s":"b","v":0.016},{"f":15.0,"s":"b","v":0.02},{"f":15.2,"s":"b","v":0.016},{"f":15.4,"s":"b","v":0.018},{"f":15.6,"s":"b","v":0.012},{"f":15.8,"s":"b","v":0.01},{"f":16.0,"s":"b","v":0.002},{"f":16.2,"s":"b","v":0.002},{"f":16.4,"s":"b","v":-0.004},{"f":16.6,"s":"b","v":-0.006},{"f":16.8,"s":"b","v":-0.008},{"f":17.0,"s":"b","v":-0.006},{"f":17.2,"s":"b","v":-0.008},{"f":17.4,"s":"b","v":-0.004},{"f":17.6,"s":"b","v":-0.004},{"f":17.8,"s":"b","v":0.002},{"f":18.0,"s":"b","v":0.006},{"f":18.2,"s":"b","v":0.014},{"f":18.4,"s":"b","v":0.024},{"f":18.6,"s":"b","v":0.028},{"f":18.8,"s":"b","v":0.034},{"f":19.0,"s":"b","v":0.038},{"f":19.2,"s":"b","v":0.044},{"f":19.4,"s":"b","v":0.05},{"f":19.6,"s":"b","v":0.052},{"f":19.8,"s":"b","v":0.044},{"f":20.0,"s":"b","v":0.034},
{"f":10.5,"s":"b","v":-0.013},{"f":10.7,"s":"b","v":-0.023},{"f":10.9,"s":"b","v":-0.006},{"f":11.1,"s":"b","v":-0.016},{"f":11.3,"s":"b","v":0.001},{"f":11.5,"s":"b","v":-0.008},{"f":11.7,"s":"b","v":0.009},{"f":11.9,"s":"b","v":0.001},{"f":12.1,"s":"b","v":0.018},{"f":12.3,"s":"b","v":0.005},{"f":12.5,"s":"b","v":0.017},{"f":12.7,"s":"b","v":0.003},{"f":12.9,"s":"b","v":0.015},{"f":13.1,"s":"b","v":0.001},{"f":13.3,"s":"b","v":0.014},{"f":13.5,"s":"b","v":0.002},{"f":13.7,"s":"b","v":0.016},{"f":13.9,"s":"b","v":0.004},{"f":14.1,"s":"b","v":0.018},{"f":14.3,"s":"b","v":0.006},{"f":14.5,"s":"b","v":0.021},{"f":14.7,"s":"b","v":0.01},{"f":14.9,"s":"b","v":0.024},{"f":15.1,"s":"b","v":0.011},{"f":15.3,"s":"b","v":0.023},{"f":15.5,"s":"b","v":0.008},{"f":15.7,"s":"b","v":0.017},{"f":15.9,"s":"b","v":-0.001},{"f":16.1,"s":"b","v":0.008},{"f":16.3,"s":"b","v":-0.008},{"f":16.5,"s":"b","v":0.001},{"f":16.7,"s":"b","v":-0.014},{"f":16.9,"s":"b","v":-0.001},{"f":17.1,"s":"b","v":-0.014},{"f":17.3,"s":"b","v":0.0},{"f":17.5,"s":"b","v":-0.011},{"f":17.7,"s":"b","v":0.005},{"f":17.9,"s":"b","v":-0.003},{"f":18.1,"s":"b","v":0.016},{"f":18.3,"s":"b","v":0.012},{"f":18.5,"s":"b","v":0.032},{"f":18.7,"s":"b","v":0.024},{"f":18.9,"s":"b","v":0.042},{"f":19.1,"s":"b","v":0.034},{"f":19.3,"s":"b","v":0.053},{"f":19.5,"s":"b","v":0.044},{"f":19.7,"s":"b","v":0.054},{"f":19.9,"s":"b","v":0.032}
]},
"encoding":{
 "x":{"field":"f","type":"quantitative","scale":{"domain":[0.2,20],"nice":false,"zero":false},"axis":null},
 "y":{"field":"v","type":"quantitative","scale":{"domain":[-1,1],"nice":false,"zero":false},"axis":null},
 "color":{"field":"s","type":"nominal","scale":{"domain":["b","m","g","c","k"],"range":["#0000FF","#FF00FF","#00FF00","#00FFFF","#000000"]},"legend":null}
},
"layer":[
 {"transform":[{"filter":"datum.s == 'b'"}],"mark":{"type":"line","strokeWidth":7.5,"strokeJoin":"round","strokeCap":"round"},
  "encoding":{
   "x":{"field":"f","type":"quantitative","axis":{"orient":"bottom","values":[5,10,15,20],"grid":true,"title":"frequency\u00a0\u00a0\u00a0GHz","labelPadding":24,"titlePadding":2}},
   "y":{"field":"v","type":"quantitative","axis":{"orient":"left","values":[-1,-0.5,0,0.5,1],"grid":true,"labelExpr":"'' + datum.value","title":"Im(ε)","labelPadding":25,"titlePadding":18}}
  }},
 {"transform":[{"filter":"datum.s == 'm'"}],"mark":{"type":"line","strokeWidth":7.5,"strokeJoin":"round","strokeCap":"round"}},
 {"transform":[{"filter":"datum.s == 'g'"}],"mark":{"type":"line","strokeWidth":7.5,"strokeJoin":"round","strokeCap":"round"}},
 {"transform":[{"filter":"datum.s == 'c'"}],"mark":{"type":"line","strokeWidth":7.5,"strokeJoin":"round","strokeCap":"round"}},
 {"transform":[{"filter":"datum.s == 'k'"}],"mark":{"type":"line","strokeWidth":7.5,"strokeJoin":"round","strokeCap":"round"}},
 {"transform":[{"filter":"datum.s == 'k'"}],"mark":{"type":"line","strokeOpacity":0},
  "encoding":{
   "x":{"field":"f","type":"quantitative","axis":{"orient":"top","values":[5,10,15,20],"grid":false,"labels":false,"title":null}},
   "y":{"field":"v","type":"quantitative","axis":{"orient":"right","values":[-1,-0.5,0,0.5,1],"grid":false,"labels":false,"title":null}}
  }}
],
"resolve":{"axis":{"x":"independent","y":"independent"}}
}
